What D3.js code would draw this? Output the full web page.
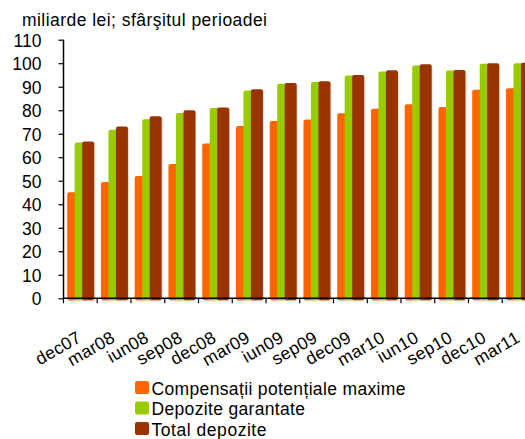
<!DOCTYPE html>
<html>
<head>
<meta charset="utf-8">
<script src="https://cdn.jsdelivr.net/npm/d3@7"></script>
<style>
    body { margin: 0; background: #fff; }
    svg { display: block; font-family: "Liberation Sans", Arial, sans-serif; }
</style>
</head>
<body>
<div id="chart"></div>
<script>
const categories= ["dec07", "mar08", "iun08", "sep08", "dec08", "mar09", "iun09", "sep09", "dec09", "mar10", "iun10", "sep10", "dec10", "mar11"]
const compensatii= [45.1, 49.5, 52.0, 57.1, 65.9, 73.3, 75.4, 76.1, 78.7, 80.6, 82.5, 81.4, 88.7, 89.3]
const depoziteGarantate= [66.3, 71.7, 76.2, 78.8, 80.9, 88.4, 91.3, 92.0, 94.8, 96.5, 99.0, 96.9, 99.8, 100.0]
const totalDepozite= [66.7, 73.1, 77.4, 80.0, 81.2, 88.9, 91.6, 92.3, 95.0, 97.0, 99.6, 97.1, 100.0, 100.2]
const yTicks= [0, 10, 20, 30, 40, 50, 60, 70, 80, 90, 100, 110]
const seriesNames= ["Compensații potențiale maxime", "Depozite garantate", "Total depozite"]
const seriesColors= ["#FF6600", "#99CC00", "#993300"]

const series= [compensatii, depoziteGarantate, totalDepozite]

const dims= {
    "width": 525,
    "height": 439,
    "left": 63.5,
    "right": 536,
    "top": 39.7,
    "bottom": 298.3,
}

const svg= d3.select("#chart")
    .append("svg")
    .attr("width", dims.width)
    .attr("height", dims.height)

const x= d3.scaleBand()
    .domain(categories)
    .range([dims.left, dims.right])

const y= d3.scaleLinear()
    .domain([0, 110])
    .range([dims.bottom, dims.top])

// overlapping bars inside one category
const barWidth= 12
const offset= d3.scalePoint()
    .domain(seriesNames)
    .range([3.7, 18.7])

svg.append("text")
    .attr("x", 22)
    .attr("y", 26)
    .attr("font-size", 17.5)
    .attr("textLength", 245)
    .attr("lengthAdjust", "spacing")
    .attr("fill", "#000")
    .text("miliarde lei; sfârşitul perioadei")

const bars= svg.append("g")

series.forEach((values, i) => {
    const g= bars.append("g")
    // soft shadow
    g.selectAll("rect.shadow")
        .data(values)
        .join("rect")
        .attr("class", "shadow")
        .attr("x", (d, j) => x(categories[j]) + offset(seriesNames[i]) + 1)
        .attr("y", d => y(d) + 1)
        .attr("width", barWidth)
        .attr("height", d => y(0) - y(d) + 2)
        .attr("rx", 2)
        .attr("fill", "#e8c8b8")
        .attr("opacity", 0.6)
    g.selectAll("rect.bar")
        .data(values)
        .join("rect")
        .attr("class", "bar")
        .attr("x", (d, j) => x(categories[j]) + offset(seriesNames[i]))
        .attr("y", d => y(d))
        .attr("width", barWidth)
        .attr("height", d => y(0) - y(d) + 2)
        .attr("rx", 2)
        .attr("fill", seriesColors[i])
})

const yAxis= svg.append("g")
    .attr("transform", `translate(${dims.left},0)`)
    .call(d3.axisLeft(y).tickValues(yTicks).tickSize(5).tickPadding(17))
yAxis.select(".domain").attr("stroke", "#000").attr("stroke-width", 1.5).attr("d", `M0,${dims.bottom}V${dims.top}`)
yAxis.selectAll(".tick line").attr("stroke", "#000").attr("stroke-width", 1.2)
yAxis.selectAll(".tick text")
    .attr("font-size", 17.5)
    .attr("font-family", "Liberation Sans, Arial, sans-serif")
    .attr("fill", "#000")
    .attr("dy", "0.36em")

const xAxis= svg.append("g")
xAxis.append("line")
    .attr("x1", dims.left)
    .attr("x2", dims.right)
    .attr("y1", y(0))
    .attr("y2", y(0))
    .attr("stroke", "#000")
    .attr("stroke-width", 1.5)
xAxis.selectAll("line.tick")
    .data(categories)
    .join("line")
    .attr("class", "tick")
    .attr("x1", d => x(d))
    .attr("x2", d => x(d))
    .attr("y1", y(0))
    .attr("y2", y(0) + 5)
    .attr("stroke", "#000")
    .attr("stroke-width", 1.2)
xAxis.selectAll("text")
    .data(categories)
    .join("text")
    .attr("transform", d => `translate(${x(d) + x.bandwidth() / 2 + 2},341) rotate(-30)`)
    .attr("text-anchor", "end")
    .attr("font-size", 17.5)
    .attr("letter-spacing", 0.3)
    .attr("fill", "#000")
    .text(d => d)

const legend= svg.append("g")
    .attr("transform", "translate(135,381)")
const legendLengths= [254, 153.5, 115]
seriesNames.forEach((name, i) => {
    const row= legend.append("g").attr("transform", `translate(0,${i * 20.5})`)
    row.append("rect")
        .attr("width", 14)
        .attr("height", 13)
        .attr("rx", 2)
        .attr("fill", seriesColors[i])
    row.append("text")
        .attr("x", 16.5)
        .attr("y", 13.5)
        .attr("font-size", 17.5)
        .attr("textLength", legendLengths[i])
        .attr("lengthAdjust", "spacing")
        .attr("fill", "#000")
        .text(name)
})
</script>
</body>
</html>
